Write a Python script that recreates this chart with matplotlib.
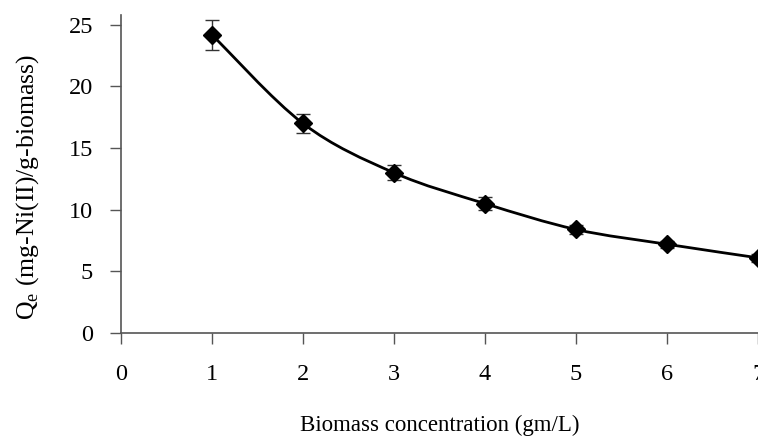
"""
Nickel uptake vs biomass concentration
"""

import numpy as np
import matplotlib
matplotlib.use("Agg")
import matplotlib.pyplot as plt
from matplotlib.path import Path
from matplotlib.patches import PathPatch

# data
biomass = [1, 2, 3, 4, 5, 6, 7]
qe = [24.2, 17.0, 13.0, 10.5, 8.4, 7.2, 6.1]
qe_err = [1.2, 0.8, 0.6, 0.5, 0.4, 0.3, 0.3]
x_ticks = [0, 1, 2, 3, 4, 5, 6, 7]
y_ticks = [0, 5, 10, 15, 20, 25]

plt.rcParams["font.family"] = ["Liberation Serif", "DejaVu Serif"]


def smooth_path(xs, ys):
    # excel-like smoothed line: catmull-rom turned into cubic bezier segments
    pts = np.column_stack([xs, ys]).astype(float)
    verts = [pts[0]]
    codes = [Path.MOVETO]
    n = len(pts)
    for i in range(n - 1):
        p0 = pts[i - 1] if i > 0 else pts[i]
        p1 = pts[i]
        p2 = pts[i + 1]
        p3 = pts[i + 2] if i + 2 < n else pts[i + 1]
        c1 = p1 + (p2 - p0) / 6.0
        c2 = p2 - (p3 - p1) / 6.0
        verts += [c1, c2, p2]
        codes += [Path.CURVE4] * 3
    return Path(verts, codes)


def main():
    fig = plt.figure(figsize=(7.58, 4.36), dpi=100)
    ax = fig.add_axes([121 / 758, 103 / 436, 637 / 758, 318 / 436])

    ax.add_patch(PathPatch(smooth_path(biomass, qe), fill=False,
                           edgecolor="black", linewidth=2, clip_on=False))
    ax.errorbar(biomass, qe, yerr=qe_err, fmt="D", color="black",
                markersize=9.5, ecolor="#333333", elinewidth=1, capsize=5,
                capthick=1, clip_on=False, zorder=3)

    ax.set_xlim(0, 7)
    ax.set_ylim(0, 25.8)
    ax.set_xticks(x_ticks)
    ax.set_yticks(y_ticks)
    ax.tick_params(axis="both", direction="out", length=8, width=1,
                   color="#555555", labelsize=17.5)
    ax.tick_params(axis="x", pad=14)
    ax.tick_params(axis="y", pad=12)

    for side in ["top", "right"]:
        ax.spines[side].set_visible(False)
    for side in ["left", "bottom"]:
        ax.spines[side].set_color("#555555")
        ax.spines[side].set_linewidth(1.2)

    ax.set_xlabel("Biomass concentration (gm/L)", fontsize=16.5, labelpad=22)
    ax.set_ylabel(r"Q$_\mathregular{e}$ (mg-Ni(II)/g-biomass)", fontsize=18.5)
    ax.yaxis.set_label_coords(-0.126, 0.46)

    fig.savefig("out.png", dpi=100)
    plt.close(fig)


if __name__ == "__main__":
    main()
